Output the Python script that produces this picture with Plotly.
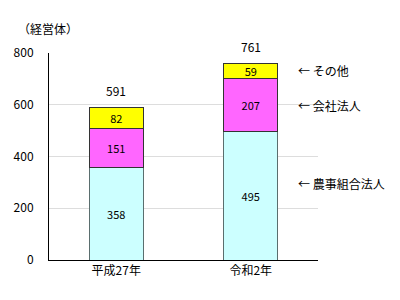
import plotly.graph_objects as go

categories = ["平成27年", "令和2年"]
nouji = [358, 495]
kaisha = [151, 207]
sonota = [82, 59]
totals = [591, 761]
series_names = ["農事組合法人", "会社法人", "その他"]
tick_vals = [0, 200, 400, 600, 800]

font = "Noto Sans CJK JP"
fig = go.Figure()
colors = ["#CCFFFF", "#FF66FF", "#FFFF00"]
edges = ["#5A6E6E", "#333333", "#333333"]
for name, vals, col, ec in zip(series_names, [nouji, kaisha, sonota], colors, edges):
    fig.add_trace(go.Bar(
        x=categories, y=vals, name=name, marker_color=col,
        marker_line=dict(color=ec, width=1),
        text=[str(v) for v in vals], textposition="inside", insidetextanchor="middle",
        textangle=0, constraintext="none",
        textfont=dict(size=11, color="black", family=font), width=0.4,
        cliponaxis=False, hoverinfo="skip",
    ))

for c, t in zip(categories, totals):
    fig.add_annotation(x=c, y=t, yref="y", text=str(t), showarrow=False,
                       yanchor="middle", yshift=17,
                       font=dict(size=12, color="black", family=font))

# right-side labels next to the second bar
label_y = [295, nouji[1] + kaisha[1] / 2, nouji[1] + kaisha[1] + sonota[1] / 2]
for name, yv in zip(series_names, label_y):
    fig.add_annotation(x=1, xref="paper", xanchor="left", xshift=-22, y=yv, yref="y",
                       text="← " + name, showarrow=False,
                       font=dict(size=12, color="black", family=font))

fig.add_annotation(x=0, xref="paper", xanchor="left", xshift=-33, y=1, yref="paper",
                   yanchor="bottom", yshift=14, text="（経営体）", showarrow=False,
                   font=dict(size=12, color="black", family=font))

fig.update_layout(
    barmode="stack", width=400, height=300,
    margin=dict(l=49, r=82, t=53, b=40),
    paper_bgcolor="white", plot_bgcolor="white", showlegend=False,
    font=dict(family=font, size=11, color="black"),
    xaxis=dict(showline=True, linecolor="black", linewidth=1, ticks="",
               tickfont=dict(size=12, family=font)),
    yaxis=dict(range=[0, 800], tickvals=tick_vals, showgrid=True, gridcolor="#DDDDDD",
               showline=True, linecolor="black", linewidth=1, ticks="",
               zeroline=False, tickfont=dict(size=12, family=font), ticklabelstandoff=12),
)
fig.write_html("out.html", config={"displayModeBar": False},
               post_script="document.body.style.margin='0';")
